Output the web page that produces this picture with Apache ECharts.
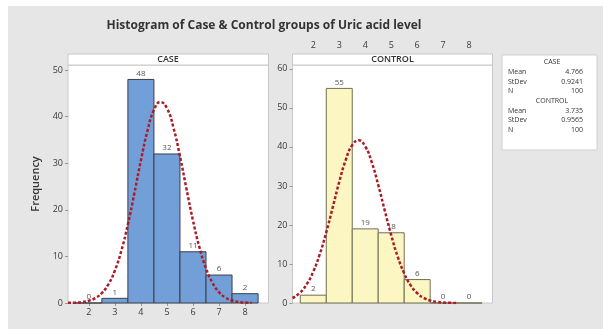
<!DOCTYPE html>
<html>
<head>
<meta charset="utf-8">
<script src="https://cdn.jsdelivr.net/npm/echarts@6/dist/echarts.min.js"></script>
<style>
html, body { margin: 0; padding: 0; background: #fff; }
#chart { width: 603px; height: 329px; }
</style>
</head>
<body>
<div id="chart"></div>
<script>
// histogram bins (centres) and counts
const bins = [2, 3, 4, 5, 6, 7, 8]
const caseCounts = [0, 1, 48, 32, 11, 6, 2]
const controlCounts = [2, 55, 19, 18, 6, 0, 0]

// tick labels
const xTicks = [2, 3, 4, 5, 6, 7, 8]
const caseYTicks = [0, 10, 20, 30, 40, 50]
const controlYTicks = [0, 10, 20, 30, 40, 50, 60]

// fitted normal curves
const curveX = [1.2, 1.5, 1.75, 2, 2.25, 2.5, 2.75, 3, 3.25, 3.5, 3.75, 4, 4.25, 4.5, 4.75,
  5, 5.25, 5.5, 5.75, 6, 6.25, 6.5, 6.75, 7, 7.25, 7.5, 7.75, 8, 8.25]
const caseCurve = [0.03, 0.08, 0.21, 0.49, 1.06, 2.14, 4.0, 6.96, 11.24, 16.89, 23.59, 30.62, 36.94, 41.42, 43.16,
  41.81, 37.64, 31.49, 24.49, 17.7, 11.89, 7.43, 4.31, 2.32, 1.16, 0.54, 0.23, 0.1, 0.04]
const controlCurve = [1.24, 2.72, 4.84, 8.05, 12.5, 18.12, 24.55, 31.05, 36.68, 40.47, 41.7, 40.14, 36.08, 30.29, 23.75,
  17.4, 11.9, 7.6, 4.53, 2.53, 1.32, 0.64, 0.29, 0.12, 0.05, 0.02]

// summary table
const statGroups = ['CASE', 'CONTROL']
const statNames = ['Mean', 'StDev', 'N']
const caseStats = ['4.766', '0.9241', '100']
const controlStats = ['3.735', '0.9565', '100']

const FONT = 'Open Sans'

function binRenderer(fill, stroke) {
  return function (params, api) {
    const x = api.value(0)
    const y = api.value(1)
    const p0 = api.coord([x - 0.5, y])
    const p1 = api.coord([x + 0.5, 0])
    return {
      type: 'group',
      children: [
        {
          type: 'rect',
          shape: { x: p0[0], y: p0[1], width: p1[0] - p0[0], height: p1[1] - p0[1] },
          style: { fill: fill, stroke: stroke, lineWidth: 1 }
        },
        {
          type: 'text',
          style: {
            text: String(y), x: (p0[0] + p1[0]) / 2, y: p0[1] - 2,
            align: 'center', verticalAlign: 'bottom',
            fill: '#555', font: '8px "' + FONT + '"'
          }
        }
      ]
    }
  }
}

function xyPairs(xs, ys) {
  return ys.map((v, i) => [xs[i], v])
}

const axisLabelStyle = { color: '#3a3a3a', fontSize: 9, fontWeight: 500, fontFamily: FONT }

// legend box texts
const legendTexts = []
let rowY = 62
statGroups.forEach((g, gi) => {
  const vals = gi === 0 ? caseStats : controlStats
  legendTexts.push({ type: 'text', style: { text: g, x: 552, y: rowY, align: 'center', verticalAlign: 'middle', fill: '#333', font: '7px "' + FONT + '"' } })
  rowY += 10
  statNames.forEach((n, i) => {
    legendTexts.push({ type: 'text', style: { text: n, x: 508, y: rowY, verticalAlign: 'middle', fill: '#333', font: '7px "' + FONT + '"' } })
    legendTexts.push({ type: 'text', style: { text: vals[i], x: 583, y: rowY, align: 'right', verticalAlign: 'middle', fill: '#333', font: '7px "' + FONT + '"' } })
    rowY += 9.5
  })
})

const chart = echarts.init(document.getElementById('chart'))
chart.setOption({
  backgroundColor: '#fff',
  animation: false,
  title: {
    text: 'Histogram of Case & Control groups of Uric acid level',
    left: 259, top: 15, textAlign: 'center',
    textStyle: { fontFamily: FONT, fontSize: 12, fontWeight: 'bold', color: '#333' }
  },
  graphic: [
    { type: 'rect', shape: { x: 8, y: 6, width: 595, height: 323 }, style: { fill: '#e6e6e6' }, z: -10 },
    { type: 'rect', shape: { x: 68, y: 54, width: 200.5, height: 11 }, style: { fill: '#fff', stroke: '#c8c8c8' } },
    { type: 'text', style: { text: 'CASE', x: 168, y: 59.5, align: 'center', verticalAlign: 'middle', fill: '#333', font: '600 9px "' + FONT + '"' } },
    { type: 'rect', shape: { x: 292.5, y: 54, width: 200, height: 11 }, style: { fill: '#fff', stroke: '#c8c8c8' } },
    { type: 'text', style: { text: 'CONTROL', x: 392.5, y: 59.5, align: 'center', verticalAlign: 'middle', fill: '#333', font: '600 9px "' + FONT + '"' } },
    { type: 'rect', shape: { x: 502, y: 55, width: 95, height: 95 }, style: { fill: '#fff', stroke: '#d0d0d0' } }
  ].concat(legendTexts),
  grid: [
    { left: 68, right: 334.5, top: 65, bottom: 26, show: true, backgroundColor: '#fff', borderColor: '#c8c8c8', borderWidth: 1 },
    { left: 292.5, right: 110.5, top: 65, bottom: 26, show: true, backgroundColor: '#fff', borderColor: '#c8c8c8', borderWidth: 1 }
  ],
  xAxis: [
    {
      type: 'value', gridIndex: 0, min: 1.2, max: 8.9,
      axisLine: { show: false }, splitLine: { show: false },
      axisTick: { show: true, length: 3, lineStyle: { color: '#999' }, customValues: xTicks },
      axisLabel: Object.assign({ margin: 5, customValues: xTicks }, axisLabelStyle)
    },
    {
      type: 'value', gridIndex: 1, min: 1.2, max: 8.9, position: 'top', offset: 11,
      axisLine: { show: false }, splitLine: { show: false },
      axisTick: { show: false, customValues: xTicks },
      axisLabel: Object.assign({ margin: 4, customValues: xTicks }, axisLabelStyle)
    }
  ],
  yAxis: [
    {
      type: 'value', gridIndex: 0, min: 0, max: 51.1,
      name: 'Frequency', nameLocation: 'middle', nameGap: 27,
      nameTextStyle: { fontFamily: FONT, fontSize: 11, fontWeight: 600, color: '#333' },
      axisLine: { show: false }, splitLine: { show: false },
      axisTick: { show: true, length: 3, lineStyle: { color: '#999' }, customValues: caseYTicks },
      axisLabel: Object.assign({ margin: 5, customValues: caseYTicks }, axisLabelStyle)
    },
    {
      type: 'value', gridIndex: 1, min: 0, max: 61,
      axisLine: { show: false }, splitLine: { show: false },
      axisTick: { show: true, length: 3, lineStyle: { color: '#999' }, customValues: controlYTicks },
      axisLabel: Object.assign({ margin: 5, customValues: controlYTicks }, axisLabelStyle)
    }
  ],
  series: [
    {
      type: 'custom', xAxisIndex: 0, yAxisIndex: 0,
      renderItem: binRenderer('#739fd9', '#3a3f4a'),
      data: xyPairs(bins, caseCounts)
    },
    {
      type: 'custom', xAxisIndex: 1, yAxisIndex: 1,
      renderItem: binRenderer('#fbf6c2', '#6f6f55'),
      data: xyPairs(bins, controlCounts)
    },
    {
      type: 'line', xAxisIndex: 0, yAxisIndex: 0, smooth: true, showSymbol: false,
      lineStyle: { color: '#a91d27', width: 2.5, type: [3, 2] },
      data: xyPairs(curveX, caseCurve), z: 5
    },
    {
      type: 'line', xAxisIndex: 1, yAxisIndex: 1, smooth: true, showSymbol: false,
      lineStyle: { color: '#a91d27', width: 2.5, type: [3, 2] },
      data: xyPairs(curveX, controlCurve), z: 5
    }
  ]
})
</script>
</body>
</html>
